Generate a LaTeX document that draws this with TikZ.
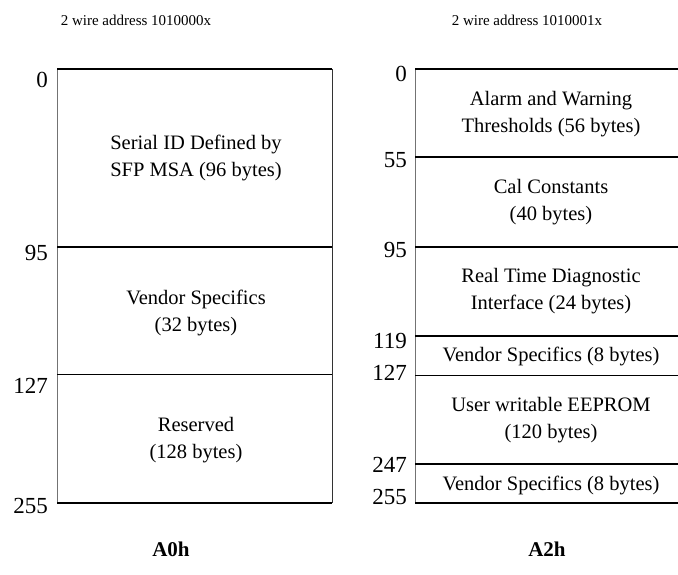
\documentclass[tikz,border=0pt]{standalone}
\usepackage{fontspec}
\setmainfont{Liberation Serif}
\begin{document}
\begin{tikzpicture}[x=1pt,y=-1pt,
  thickline/.style={line width=1.8pt,black},
  thinline/.style={line width=0.9pt,black},
  vline/.style={line width=1pt,black!55},
  vlineR/.style={line width=1pt,black!80},
  body/.style={font=\fontsize{20.5}{26.5}\selectfont,align=center,inner sep=0pt},
  num/.style={font=\fontsize{23}{23}\selectfont,anchor=east,inner sep=0pt},
  title/.style={font=\fontsize{15}{18}\selectfont,inner sep=0pt},
  bank/.style={font=\bfseries\fontsize{21}{21}\selectfont,inner sep=0pt}]
\useasboundingbox (0,0) rectangle (678,575);
% titles
\node[title] (t0) at (136,20) {2 wire address 1010000x};
\node[title] (t2) at (527,20) {2 wire address 1010001x};
% left box
\draw[vline] (57,69) -- (57,503);
\draw[vlineR] (332,69) -- (332,503);
\draw[thickline] (57,69) -- (332,69);
\draw[thickline] (57,247) -- (332,247);
\draw[thinline] (57,374) -- (332,374);
\draw[thickline] (57,503) -- (332,503);
\node[body] (l1) at (196,158) {Serial ID Defined by\\SFP MSA (96 bytes)};
\node[body] (l2) at (196,313) {Vendor Specifics\\(32 bytes)};
\node[body] (l3) at (196,440) {Reserved\\(128 bytes)};
\node[num] (n0) at (48,80) {0};
\node[num] (n95) at (48,253) {95};
\node[num] (n127) at (48,386) {127};
\node[num] (n255) at (48,506) {255};
% right box
\draw[vline] (415,69) -- (415,503);
\draw[thickline] (415,69) -- (678,69);
\draw[thickline] (415,157) -- (678,157);
\draw[thickline] (415,247) -- (678,247);
\draw[thickline] (415,336) -- (678,336);
\draw[thinline] (415,375) -- (678,375);
\draw[thickline] (415,464) -- (678,464);
\draw[thickline] (415,503) -- (678,503);
\node[body] (r1) at (551,114) {Alarm and Warning\\Thresholds (56 bytes)};
\node[body] (r2) at (551,202) {Cal Constants\\(40 bytes)};
\node[body] (r3) at (551,291) {Real Time Diagnostic\\Interface (24 bytes)};
\node[body] (r4) at (551,356) {Vendor Specifics (8 bytes)};
\node[body] (r5) at (551,420) {User writable EEPROM\\(120 bytes)};
\node[body] (r6) at (551,485) {Vendor Specifics (8 bytes)};
\node[num] (m0) at (407,74) {0};
\node[num] (m55) at (407,160) {55};
\node[num] (m95) at (407,250) {95};
\node[num] (m119) at (407,341) {119};
\node[num] (m127) at (407,373) {127};
\node[num] (m247) at (407,465) {247};
\node[num] (m255) at (407,497) {255};
% bank labels
\node[bank] (a0) at (171,549) {A0h};
\node[bank] (a2) at (547,549) {A2h};
\end{tikzpicture}
\end{document}
